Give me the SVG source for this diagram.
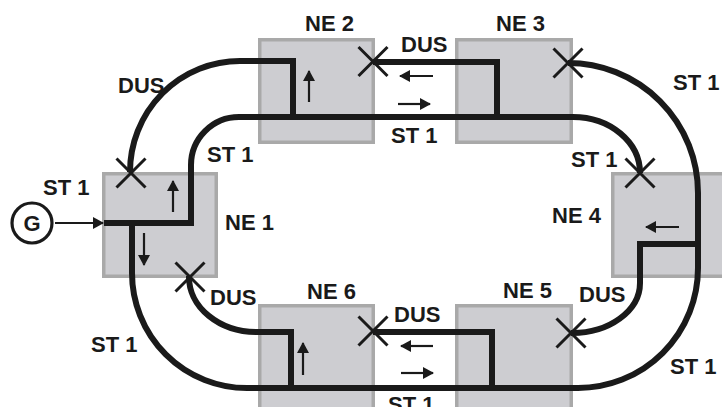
<svg xmlns="http://www.w3.org/2000/svg" width="722" height="407" viewBox="0 0 722 407">
<defs>
<style>
.ne{fill:#cdcdd1;stroke:#a9a9a9;stroke-width:3.5}
.ln{fill:none;stroke:#1a1a1a;stroke-width:6;stroke-linejoin:miter}
.x{stroke:#1a1a1a;stroke-width:3;fill:none}
.ar{stroke:#1a1a1a;stroke-width:2.2;fill:none;marker-end:url(#ah)}
text{font-family:"Liberation Sans",Arial,sans-serif;font-weight:bold;font-size:22px;fill:#1a1a1a}
</style>
<marker id="ah" viewBox="0 0 11 12" refX="10" refY="6" markerWidth="11" markerHeight="12" markerUnits="userSpaceOnUse" orient="auto">
<path d="M0,0 L11,6 L0,12 Z" fill="#1a1a1a"/>
</marker>
</defs>
<rect width="722" height="407" fill="#ffffff"/>
<g id="ne1"><rect class="ne" x="103.75" y="173.75" width="112.5" height="102.5"/><text x="225" y="230">NE 1</text></g>
<g id="ne2"><rect class="ne" x="259.75" y="39.75" width="113.5" height="102.5"/><text x="305" y="31">NE 2</text></g>
<g id="ne3"><rect class="ne" x="456.75" y="39.75" width="114.5" height="102.5"/><text x="496" y="31">NE 3</text></g>
<g id="ne4"><rect class="ne" x="612.75" y="173.75" width="120" height="102.5"/><text x="552" y="223">NE 4</text></g>
<g id="ne5"><rect class="ne" x="456.75" y="305.75" width="114.5" height="120"/><text x="503" y="298">NE 5</text></g>
<g id="ne6"><rect class="ne" x="259.75" y="305.75" width="113.5" height="120"/><text x="307" y="299">NE 6</text></g>
<g id="g-source"><circle cx="32" cy="223" r="20" fill="#ffffff" stroke="#1a1a1a" stroke-width="3.2"/><text x="32" y="231" text-anchor="middle">G</text></g>
<g id="connectors">
<path class="ln" d="M104,223 H191 V165 A48,48 0 0 1 239,117 H573 A67,56 0 0 1 640,173"/>
<path class="ln" d="M191,223 H132 V273 A115,115 0 0 0 247,388 H578 A120,120 0 0 0 698,268 V193 A130,130 0 0 0 568,63"/>
<path class="ln" d="M293,117 V61 H240 A110,111 0 0 0 130,172"/>
<path class="ln" d="M497,117 V62 H373"/>
<path class="ln" d="M698,244 H640 V283 A68,50 0 0 1 571,333"/>
<path class="ln" d="M291,388 V332 H258 A68,55 0 0 1 189,276"/>
<path class="ln" d="M492,388 V332 H373"/>
<line class="ar" x1="55" y1="223" x2="103" y2="223"/>
<line class="ar" x1="173" y1="212" x2="173" y2="181"/>
<line class="ar" x1="144" y1="233" x2="144" y2="265"/>
<line class="ar" x1="309" y1="102" x2="309" y2="71"/>
<line class="ar" x1="433" y1="76" x2="400" y2="76"/>
<line class="ar" x1="398" y1="104" x2="430" y2="104"/>
<line class="ar" x1="679" y1="227" x2="646" y2="227"/>
<line class="ar" x1="303" y1="375" x2="303" y2="343"/>
<line class="ar" x1="433" y1="346" x2="401" y2="346"/>
<line class="ar" x1="401" y1="373" x2="433" y2="373"/>
<path class="x" d="M116.5,158.5 l29,29 M145.5,158.5 l-29,29"/>
<path class="x" d="M175.5,262.5 l29,29 M204.5,262.5 l-29,29"/>
<path class="x" d="M358.5,47 l29,29 M387.5,47 l-29,29"/>
<path class="x" d="M553.5,48.5 l29,29 M582.5,48.5 l-29,29"/>
<path class="x" d="M625.5,158.5 l29,29 M654.5,158.5 l-29,29"/>
<path class="x" d="M556.5,318.5 l29,29 M585.5,318.5 l-29,29"/>
<path class="x" d="M358.5,316.5 l29,29 M387.5,316.5 l-29,29"/>
</g>
<g id="labels">
<text x="401" y="52">DUS</text>
<text x="391" y="143">ST 1</text>
<text x="673" y="90">ST 1</text>
<text x="571" y="167">ST 1</text>
<text x="118" y="93">DUS</text>
<text x="207" y="162">ST 1</text>
<text x="43" y="195">ST 1</text>
<text x="210" y="305">DUS</text>
<text x="91" y="352">ST 1</text>
<text x="394" y="322">DUS</text>
<text x="388" y="412">ST 1</text>
<text x="579" y="302">DUS</text>
<text x="670" y="374">ST 1</text>
</g>
</svg>
